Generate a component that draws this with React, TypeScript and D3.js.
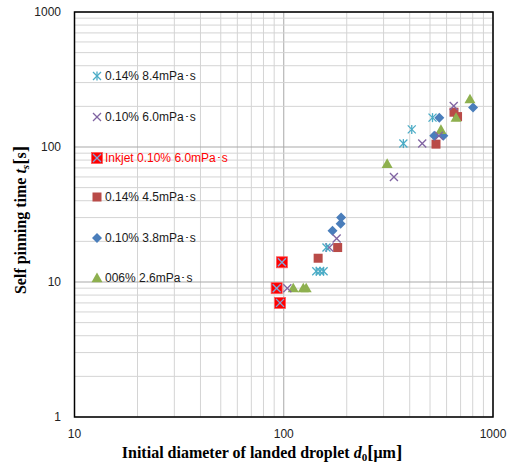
import React from "react";
import * as d3 from "d3";

const xTickLabels = [10, 100, 1000];
const yTickLabels = [1, 10, 100, 1000];

const cyanD = [143, 149, 155, 160, 373, 409, 514];
const cyanT = [12, 12, 12, 18, 106, 135, 165];

const purpleD = [104, 165, 179, 336, 459, 552, 649];
const purpleT = [9, 18, 21, 60, 106, 121, 201];

const inkjetD = [92.5, 98, 96];
const inkjetT = [9, 14, 7];

const brownD = [146, 181, 534, 651, 677];
const brownT = [15, 18, 105, 181, 168];

const blueD = [171, 187, 188, 524, 579, 554, 803];
const blueT = [24, 27, 30, 121, 121, 165, 196];

const greenD = [111, 124, 128, 312, 564, 666, 776];
const greenT = [9, 9, 9, 75, 134, 165, 226];

const seriesNames = [
  "0.14% 8.4mPa･s",
  "0.10% 6.0mPa･s",
  "Inkjet 0.10% 6.0mPa･s",
  "0.14% 4.5mPa･s",
  "0.10% 3.8mPa･s",
  "006% 2.6mPa･s",
];

const W = 508;
const H = 470;
const plot = { left: 74.5, right: 493, top: 12, bottom: 417 };

const x = d3.scaleLog().domain([10, 1000]).range([plot.left, plot.right]);
const y = d3.scaleLog().domain([1, 1000]).range([plot.bottom, plot.top]);

const Marker = ({ kind, cx, cy }: { kind: number; cx: number; cy: number }) => {
  if (kind === 0) {
    const r = 4;
    return (
      <g stroke="#4bacc6" strokeWidth={1.3}>
        <line x1={cx - r} y1={cy - r} x2={cx + r} y2={cy + r} />
        <line x1={cx - r} y1={cy + r} x2={cx + r} y2={cy - r} />
        <line x1={cx} y1={cy - r - 0.5} x2={cx} y2={cy + r + 0.5} />
      </g>
    );
  }
  if (kind === 1) {
    const r = 4;
    return (
      <g stroke="#8064a2" strokeWidth={1.3}>
        <line x1={cx - r} y1={cy - r} x2={cx + r} y2={cy + r} />
        <line x1={cx - r} y1={cy + r} x2={cx + r} y2={cy - r} />
      </g>
    );
  }
  if (kind === 2) {
    const r = 5.5;
    const k = 4;
    return (
      <g>
        <rect x={cx - r} y={cy - r} width={2 * r} height={2 * r} fill="#ff0000" stroke="#ff5a5a" strokeWidth={0.8} />
        <g stroke="#7fa7d9" strokeWidth={1.3}>
          <line x1={cx - k} y1={cy - k} x2={cx + k} y2={cy + k} />
          <line x1={cx - k} y1={cy + k} x2={cx + k} y2={cy - k} />
        </g>
      </g>
    );
  }
  if (kind === 3) {
    const r = 4.5;
    return <rect x={cx - r} y={cy - r} width={2 * r} height={2 * r} fill="#b94b48" />;
  }
  if (kind === 4) {
    const r = 5;
    return (
      <path
        d={`M${cx},${cy - r}L${cx + r},${cy}L${cx},${cy + r}L${cx - r},${cy}Z`}
        fill="#4a7ebb"
      />
    );
  }
  const r = 5.5;
  return (
    <path
      d={`M${cx},${cy - r}L${cx + r},${cy + r * 0.75}L${cx - r},${cy + r * 0.75}Z`}
      fill="#8eb04f"
    />
  );
};

const seriesD = [cyanD, purpleD, inkjetD, brownD, blueD, greenD];
const seriesT = [cyanT, purpleT, inkjetT, brownT, blueT, greenT];
// draw order so the inkjet squares sit under the small markers like in Excel
const drawOrder = [2, 3, 4, 5, 1, 0];

const legendY = [76, 117, 158, 197, 238, 278];

export default function App() {
  const xGrid = x.ticks();
  const yGrid = y.ticks();
  const isMajor = (v: number) => Math.abs(Math.log10(v) - Math.round(Math.log10(v))) < 1e-9;
  const serif = "'Liberation Serif', 'Times New Roman', serif";

  return (
    <svg
      width={W}
      height={H}
      style={{ position: "absolute", left: 0, top: 0, background: "#fff" }}
      fontFamily="'Liberation Sans', Arial, sans-serif"
    >
      {/* grid */}
      {xGrid.map((v, i) => (
        <line
          key={"gx" + i}
          x1={x(v)}
          x2={x(v)}
          y1={plot.top}
          y2={plot.bottom}
          stroke={isMajor(v) ? "#a9a9a9" : "#d4d4d4"}
          strokeWidth={1}
        />
      ))}
      {yGrid.map((v, i) => (
        <line
          key={"gy" + i}
          x1={plot.left}
          x2={plot.right}
          y1={y(v)}
          y2={y(v)}
          stroke={isMajor(v) ? "#a9a9a9" : "#d4d4d4"}
          strokeWidth={1}
        />
      ))}

      {/* legend */}
      {seriesNames.map((name, i) => (
        <g key={"lg" + i}>
          <Marker kind={i} cx={97} cy={legendY[i]} />
          <text
            x={105}
            y={legendY[i]}
            dy="0.35em"
            fontSize={12}
            fill={i === 2 ? "#ff0000" : "#1a1a1a"}
          >
            {name}
          </text>
        </g>
      ))}

      {/* points */}
      {drawOrder.map((s) =>
        seriesD[s].map((d, j) => (
          <Marker key={`p${s}-${j}`} kind={s} cx={x(d)} cy={y(seriesT[s][j])} />
        ))
      )}

      {/* frame */}
      <rect
        x={plot.left}
        y={plot.top}
        width={plot.right - plot.left}
        height={plot.bottom - plot.top}
        fill="none"
        stroke="#000"
        strokeWidth={1.5}
      />

      {/* tick labels */}
      {yTickLabels.map((v) => (
        <text key={"ty" + v} x={61} y={y(v)} dy="0.35em" textAnchor="end" fontSize={12} fill="#222">
          {v}
        </text>
      ))}
      {xTickLabels.map((v) => (
        <text key={"tx" + v} x={x(v)} y={438} textAnchor="middle" fontSize={12} fill="#222">
          {v}
        </text>
      ))}

      {/* axis titles */}
      <text
        x={262}
        y={458}
        textAnchor="middle"
        fontFamily={serif}
        fontWeight="bold"
        fontSize={16}
        fill="#000"
      >
        Initial diameter of landed droplet <tspan fontStyle="italic">d</tspan>
        <tspan fontSize={11} dy={3}>0</tspan>
        <tspan dy={-3} fontSize={19}>[</tspan>
        <tspan>μm</tspan>
        <tspan fontSize={19}>]</tspan>
      </text>
      <text
        transform="translate(26,220) rotate(-90)"
        textAnchor="middle"
        fontFamily={serif}
        fontWeight="bold"
        fontSize={16}
        fill="#000"
      >
        Self pinning time <tspan fontStyle="italic">t</tspan>
        <tspan fontSize={11} dy={3} fontStyle="italic">s</tspan>
        <tspan dy={-3} fontSize={19}>[</tspan>
        <tspan>s</tspan>
        <tspan fontSize={19}>]</tspan>
      </text>
    </svg>
  );
}
